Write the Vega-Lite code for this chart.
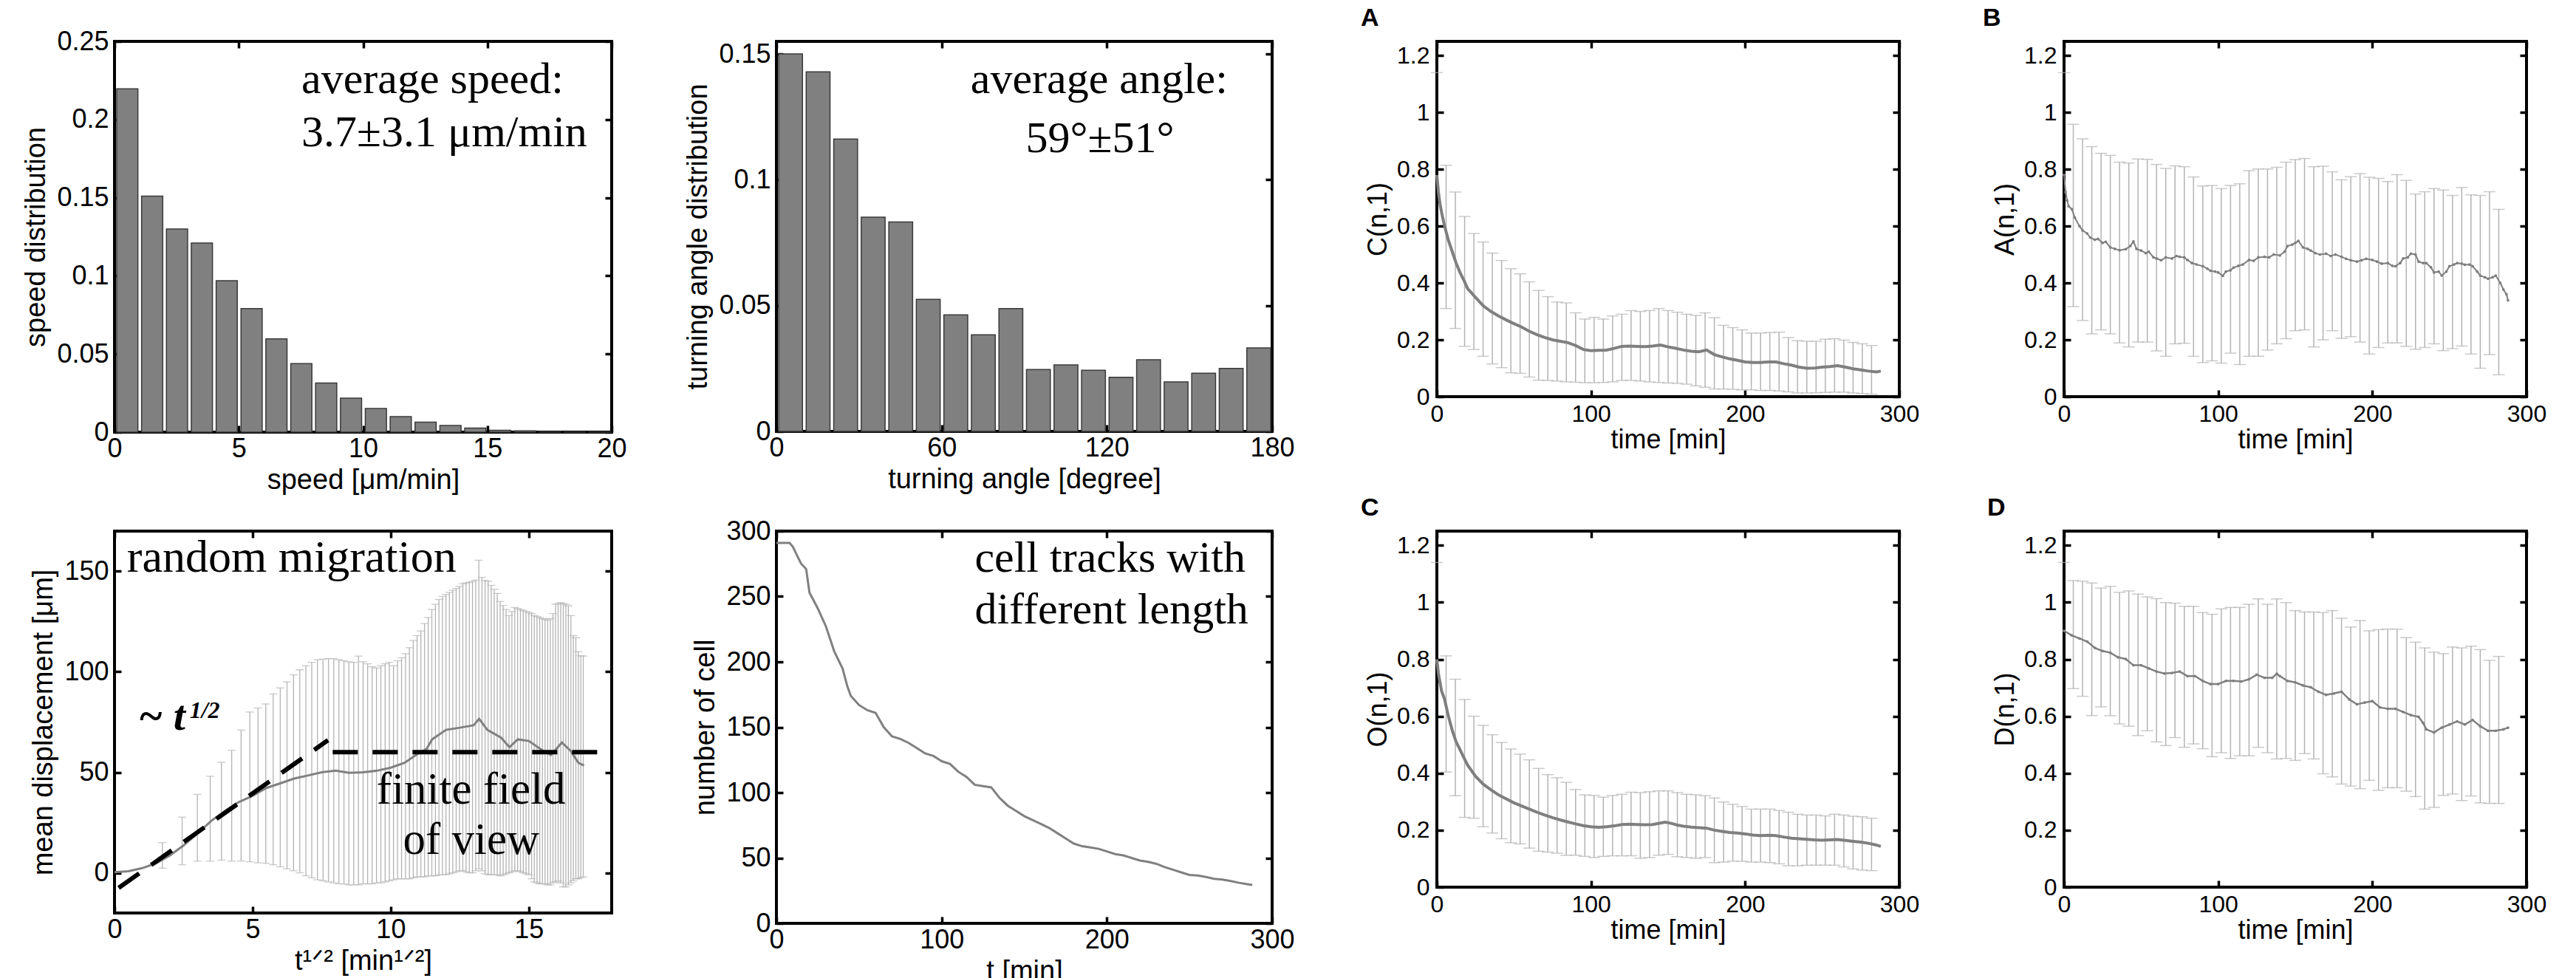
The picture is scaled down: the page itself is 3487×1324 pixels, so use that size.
{
"$schema": "https://vega.github.io/schema/vega-lite/v6.json",
"autosize": {"type": "none"},
"padding": {"left": 155, "top": 56, "right": 3332, "bottom": 1268},
"background": "white",
"config": {
  "view": {"stroke": "black", "strokeWidth": 4},
  "axis": {"domain": false, "grid": false, "ticks": true, "tickColor": "black", "tickWidth": 3.5, "tickSize": -9,
    "labelFont": "Liberation Sans", "titleFont": "Liberation Sans", "labelColor": "black", "titleColor": "black",
    "titleFontWeight": "normal", "labelFontSize": 36, "titleFontSize": 38, "labelFlush": false, "labelOverlap": false}
},
"datasets": {
  "speed": [
    {"b0":0,"b1":1,"p":0.2196},{"b0":1,"b1":2,"p":0.151},{"b0":2,"b1":3,"p":0.130},{"b0":3,"b1":4,"p":0.121},
    {"b0":4,"b1":5,"p":0.0969},{"b0":5,"b1":6,"p":0.079},{"b0":6,"b1":7,"p":0.0597},{"b0":7,"b1":8,"p":0.0438},
    {"b0":8,"b1":9,"p":0.0314},{"b0":9,"b1":10,"p":0.0217},{"b0":10,"b1":11,"p":0.0151},{"b0":11,"b1":12,"p":0.0099},
    {"b0":12,"b1":13,"p":0.0064},{"b0":13,"b1":14,"p":0.0042},{"b0":14,"b1":15,"p":0.0026},{"b0":15,"b1":16,"p":0.0012},
    {"b0":16,"b1":17,"p":0.0008},{"b0":17,"b1":18,"p":0.0002},{"b0":18,"b1":19,"p":0.0001},{"b0":19,"b1":20,"p":0.0001}
  ],
  "angle": [
    {"b0":0,"b1":10,"p":0.150},{"b0":10,"b1":20,"p":0.1429},{"b0":20,"b1":30,"p":0.1162},{"b0":30,"b1":40,"p":0.0851},
    {"b0":40,"b1":50,"p":0.0832},{"b0":50,"b1":60,"p":0.0525},{"b0":60,"b1":70,"p":0.0463},{"b0":70,"b1":80,"p":0.0384},
    {"b0":80,"b1":90,"p":0.0488},{"b0":90,"b1":100,"p":0.0246},{"b0":100,"b1":110,"p":0.0264},{"b0":110,"b1":120,"p":0.0243},
    {"b0":120,"b1":130,"p":0.0215},{"b0":130,"b1":140,"p":0.0285},{"b0":140,"b1":150,"p":0.0197},{"b0":150,"b1":160,"p":0.0231},
    {"b0":160,"b1":170,"p":0.0250},{"b0":170,"b1":180,"p":0.0332}
  ],
  "disp": [
    {"x":0,"y":0.3},{"x":0.5,"y":0.8},{"x":1,"y":2.3},{"x":1.5,"y":4.7},{"x":2,"y":8.6},{"x":2.5,"y":13.6},{"x":3,"y":19.5},
    {"x":3.5,"y":25.8},{"x":4,"y":30.8},{"x":4.5,"y":35.2},{"x":5,"y":38.3},{"x":5.5,"y":42.2},{"x":6,"y":44.5},{"x":6.5,"y":46.9},
    {"x":7,"y":48.4},{"x":7.5,"y":50},{"x":8,"y":50.8},{"x":8.5,"y":49.7},{"x":9,"y":50},{"x":9.5,"y":50.8},{"x":10,"y":52.3},
    {"x":10.5,"y":54.7},{"x":11,"y":59.4},{"x":11.3,"y":61.7},{"x":11.5,"y":66.4},{"x":12,"y":71.1},{"x":12.5,"y":72.2},{"x":13,"y":73.4},
    {"x":13.2,"y":76.6},{"x":13.5,"y":71.1},{"x":14,"y":67.2},{"x":14.3,"y":62.5},{"x":14.6,"y":66.4},{"x":15,"y":65.6},
    {"x":15.5,"y":60.9},{"x":15.8,"y":58.6},{"x":16.2,"y":64.8},{"x":16.5,"y":60.9},{"x":16.8,"y":54.7},{"x":17,"y":53.4}
  ],
  "disp_err": [
    {"x":1.732,"lo":2.3,"hi":15},{"x":2.449,"lo":4,"hi":27.7},{"x":3.0,"lo":5.8,"hi":39},{"x":3.464,"lo":5.8,"hi":48},
    {"x":3.873,"lo":6.3,"hi":55},{"x":4.243,"lo":5.8,"hi":61},{"x":4.583,"lo":5.9,"hi":71},{"x":4.899,"lo":5.5,"hi":80},
    {"x":5.196,"lo":5,"hi":82},{"x":5.477,"lo":4.7,"hi":84},{"x":5.745,"lo":4,"hi":89},{"x":6.0,"lo":3,"hi":92},
    {"x":6.245,"lo":2,"hi":95},{"x":6.481,"lo":1,"hi":98.5},{"x":6.708,"lo":0,"hi":101},{"x":6.928,"lo":-1.5,"hi":103},
    {"x":7.141,"lo":-2.5,"hi":104.7},{"x":7.348,"lo":-3.5,"hi":106},{"x":7.55,"lo":-4,"hi":106.3},{"x":7.746,"lo":-4.5,"hi":106.6},
    {"x":7.937,"lo":-5,"hi":106.5},{"x":8.124,"lo":-5.5,"hi":106},{"x":8.307,"lo":-5.5,"hi":105.5},{"x":8.485,"lo":-6,"hi":105},
    {"x":8.66,"lo":-6,"hi":104.7},{"x":8.832,"lo":-6,"hi":107.8},{"x":9.0,"lo":-5.5,"hi":105},{"x":9.165,"lo":-5.5,"hi":104},
    {"x":9.327,"lo":-5.5,"hi":102.5},{"x":9.487,"lo":-5,"hi":101.9},{"x":9.644,"lo":-5,"hi":103},{"x":9.798,"lo":-4.5,"hi":104},
    {"x":9.95,"lo":-4,"hi":104.7},{"x":10.1,"lo":-3.5,"hi":103},{"x":10.247,"lo":-3,"hi":105.5},{"x":10.392,"lo":-3,"hi":107},
    {"x":10.536,"lo":-3,"hi":109},{"x":10.677,"lo":-3,"hi":112},{"x":10.817,"lo":-2.5,"hi":115.6},{"x":10.954,"lo":-2,"hi":118},
    {"x":11.091,"lo":-2,"hi":120.3},{"x":11.225,"lo":-2,"hi":124},{"x":11.358,"lo":-1.5,"hi":127},{"x":11.489,"lo":-1.5,"hi":131},
    {"x":11.619,"lo":-1.5,"hi":133.6},{"x":11.747,"lo":-1,"hi":136},{"x":11.874,"lo":-1,"hi":137.5},{"x":12.0,"lo":-1,"hi":138.5},
    {"x":12.124,"lo":-0.5,"hi":139.5},{"x":12.247,"lo":0,"hi":140.6},{"x":12.369,"lo":0.5,"hi":141.5},{"x":12.49,"lo":1,"hi":142.5},
    {"x":12.61,"lo":1,"hi":143.8},{"x":12.728,"lo":0.5,"hi":144.2},{"x":12.845,"lo":0,"hi":144.5},{"x":12.961,"lo":0,"hi":145},
    {"x":13.077,"lo":1,"hi":145.6},{"x":13.191,"lo":2,"hi":155.5},{"x":13.304,"lo":1,"hi":147},{"x":13.416,"lo":-0.5,"hi":145.5},
    {"x":13.528,"lo":-1,"hi":145},{"x":13.638,"lo":-1,"hi":143},{"x":13.748,"lo":-1,"hi":141},{"x":13.856,"lo":-1,"hi":139},
    {"x":13.964,"lo":-1.5,"hi":135},{"x":14.071,"lo":-1,"hi":133},{"x":14.177,"lo":-0.5,"hi":131},{"x":14.283,"lo":0,"hi":128},
    {"x":14.387,"lo":0.5,"hi":130},{"x":14.491,"lo":1,"hi":132},{"x":14.595,"lo":1,"hi":131.5},{"x":14.697,"lo":0.5,"hi":131},
    {"x":14.799,"lo":0,"hi":130.5},{"x":14.9,"lo":-0.5,"hi":130},{"x":15.0,"lo":-1,"hi":129.5},{"x":15.1,"lo":-3,"hi":129},
    {"x":15.199,"lo":-4.5,"hi":128},{"x":15.297,"lo":-5,"hi":127.5},{"x":15.395,"lo":-5.5,"hi":127},{"x":15.492,"lo":-5.5,"hi":126.5},
    {"x":15.588,"lo":-5.5,"hi":126},{"x":15.684,"lo":-6,"hi":125.8},{"x":15.78,"lo":-6,"hi":126.5},{"x":15.875,"lo":-5,"hi":129},
    {"x":15.969,"lo":-4.5,"hi":133.6},{"x":16.062,"lo":-4,"hi":134},{"x":16.155,"lo":-5,"hi":134.4},{"x":16.248,"lo":-7,"hi":134},
    {"x":16.34,"lo":-7,"hi":133.5},{"x":16.432,"lo":-6,"hi":132.8},{"x":16.523,"lo":-5,"hi":128},{"x":16.613,"lo":-4,"hi":118},
    {"x":16.703,"lo":-3,"hi":117},{"x":16.793,"lo":-3,"hi":110},{"x":16.882,"lo":-2.5,"hi":108},{"x":16.971,"lo":-2,"hi":107.8}
  ],
  "dash": [
    {"x":0.15,"y":-7.5,"seg":"a"},{"x":7.73,"y":66,"seg":"a"},{"x":7.9,"y":60,"seg":"b"},{"x":18,"y":60,"seg":"b"}
  ],
  "cells": [
    {"t":0,"n":291},{"t":8,"n":291},{"t":10,"n":288},{"t":13,"n":280},{"t":15,"n":275},{"t":18,"n":271},{"t":20,"n":253},
    {"t":25,"n":241},{"t":30,"n":227},{"t":35,"n":208},{"t":40,"n":195},{"t":43,"n":181},{"t":45,"n":174},{"t":50,"n":167},
    {"t":55,"n":163},{"t":60,"n":161},{"t":65,"n":150},{"t":70,"n":143},{"t":75,"n":141},{"t":80,"n":138},{"t":85,"n":134},
    {"t":90,"n":130},{"t":95,"n":128},{"t":100,"n":124},{"t":105,"n":122},{"t":110,"n":116},{"t":115,"n":112},{"t":120,"n":106},
    {"t":125,"n":105},{"t":130,"n":104},{"t":135,"n":96},{"t":140,"n":90},{"t":145,"n":86},{"t":150,"n":82},{"t":155,"n":79},
    {"t":160,"n":76},{"t":165,"n":73},{"t":170,"n":69},{"t":175,"n":65},{"t":180,"n":61},{"t":185,"n":59},{"t":190,"n":58},
    {"t":195,"n":57},{"t":200,"n":55},{"t":205,"n":53},{"t":210,"n":52},{"t":215,"n":50},{"t":220,"n":48},{"t":225,"n":47},
    {"t":230,"n":45.5},{"t":235,"n":43},{"t":240,"n":41},{"t":245,"n":39},{"t":250,"n":37},{"t":255,"n":36.6},{"t":260,"n":35.4},
    {"t":265,"n":34},{"t":270,"n":33.5},{"t":275,"n":32.3},{"t":280,"n":31},{"t":285,"n":30},{"t":288,"n":29.4}
  ],
  "A_mean": [
    {"t":0,"v":0.78},{"t":1,"v":0.72},{"t":2,"v":0.68},{"t":3,"v":0.65},{"t":5,"v":0.6},{"t":7.5,"v":0.55},{"t":10,"v":0.51},
    {"t":12.5,"v":0.47},{"t":15,"v":0.437},{"t":17.5,"v":0.41},{"t":20,"v":0.38},{"t":25,"v":0.35},{"t":30,"v":0.32},{"t":35,"v":0.3},
    {"t":40,"v":0.284},{"t":45,"v":0.27},{"t":50,"v":0.257},{"t":55,"v":0.245},{"t":60,"v":0.23},{"t":65,"v":0.218},{"t":70,"v":0.208},
    {"t":75,"v":0.2},{"t":80,"v":0.195},{"t":85,"v":0.19},{"t":90,"v":0.18},{"t":95,"v":0.166},{"t":100,"v":0.162},{"t":105,"v":0.163},
    {"t":110,"v":0.164},{"t":115,"v":0.17},{"t":120,"v":0.177},{"t":125,"v":0.178},{"t":130,"v":0.177},{"t":135,"v":0.176},
    {"t":140,"v":0.178},{"t":145,"v":0.182},{"t":150,"v":0.175},{"t":155,"v":0.17},{"t":160,"v":0.164},{"t":165,"v":0.16},
    {"t":170,"v":0.158},{"t":175,"v":0.164},{"t":180,"v":0.148},{"t":185,"v":0.14},{"t":190,"v":0.133},{"t":195,"v":0.128},
    {"t":200,"v":0.122},{"t":205,"v":0.12},{"t":210,"v":0.12},{"t":215,"v":0.122},{"t":220,"v":0.122},{"t":225,"v":0.116},
    {"t":230,"v":0.111},{"t":235,"v":0.104},{"t":240,"v":0.1},{"t":245,"v":0.101},{"t":250,"v":0.104},{"t":255,"v":0.106},
    {"t":260,"v":0.109},{"t":265,"v":0.104},{"t":270,"v":0.098},{"t":275,"v":0.094},{"t":280,"v":0.09},{"t":285,"v":0.087},{"t":288,"v":0.09}
  ],
  "A_err": [
    {"t":0,"lo":null,"hi":1.14},
    {"t":6,"lo":0.31,"hi":0.814},{"t":12,"lo":0.24,"hi":0.72},{"t":18,"lo":0.177,"hi":0.634},{"t":24,"lo":0.166,"hi":0.574},
    {"t":30,"lo":0.142,"hi":0.544},{"t":36,"lo":0.115,"hi":0.505},{"t":42,"lo":0.102,"hi":0.479},{"t":48,"lo":0.084,"hi":0.45},
    {"t":54,"lo":0.082,"hi":0.432},{"t":60,"lo":0.069,"hi":0.404},{"t":66,"lo":0.058,"hi":0.374},{"t":72,"lo":0.057,"hi":0.352},
    {"t":78,"lo":0.055,"hi":0.333},{"t":84,"lo":0.052,"hi":0.33},{"t":90,"lo":0.051,"hi":0.295},{"t":96,"lo":0.049,"hi":0.273},
    {"t":102,"lo":0.049,"hi":0.279},{"t":108,"lo":0.05,"hi":0.273},{"t":114,"lo":0.052,"hi":0.284},{"t":120,"lo":0.057,"hi":0.29},
    {"t":126,"lo":0.057,"hi":0.303},{"t":132,"lo":0.055,"hi":0.30},{"t":138,"lo":0.052,"hi":0.303},{"t":144,"lo":0.05,"hi":0.31},
    {"t":150,"lo":0.048,"hi":0.303},{"t":156,"lo":0.047,"hi":0.297},{"t":162,"lo":0.044,"hi":0.29},{"t":168,"lo":0.038,"hi":0.286},
    {"t":174,"lo":0.033,"hi":0.295},{"t":180,"lo":0.027,"hi":0.278},{"t":186,"lo":0.027,"hi":0.251},{"t":192,"lo":0.026,"hi":0.243},
    {"t":198,"lo":0.024,"hi":0.235},{"t":204,"lo":0.024,"hi":0.224},{"t":210,"lo":0.022,"hi":0.224},{"t":216,"lo":0.022,"hi":0.226},
    {"t":222,"lo":0.02,"hi":0.227},{"t":228,"lo":0.017,"hi":0.208},{"t":234,"lo":0.013,"hi":0.197},{"t":240,"lo":0.013,"hi":0.195},
    {"t":246,"lo":0.014,"hi":0.195},{"t":252,"lo":0.015,"hi":0.202},{"t":258,"lo":0.016,"hi":0.204},{"t":264,"lo":0.016,"hi":0.199},
    {"t":270,"lo":0.013,"hi":0.191},{"t":276,"lo":0.011,"hi":0.186},{"t":282,"lo":0.009,"hi":0.18}
  ],
  "B_mean": [
    {"t":0,"v":0.78},{"t":1,"v":0.72},{"t":2,"v":0.69},{"t":3,"v":0.67},{"t":5,"v":0.66},{"t":7,"v":0.63},{"t":10,"v":0.6},{"t":12,"v":0.585},
    {"t":15,"v":0.574},{"t":17,"v":0.56},{"t":20,"v":0.552},{"t":22,"v":0.555},{"t":25,"v":0.541},{"t":27,"v":0.545},{"t":30,"v":0.525},
    {"t":33,"v":0.52},{"t":36,"v":0.515},{"t":40,"v":0.519},{"t":43,"v":0.53},{"t":45,"v":0.546},{"t":47,"v":0.52},{"t":50,"v":0.514},
    {"t":53,"v":0.505},{"t":55,"v":0.51},{"t":58,"v":0.49},{"t":60,"v":0.486},{"t":63,"v":0.48},{"t":66,"v":0.49},{"t":70,"v":0.486},
    {"t":73,"v":0.495},{"t":75,"v":0.492},{"t":78,"v":0.49},{"t":80,"v":0.481},{"t":83,"v":0.47},{"t":86,"v":0.465},{"t":90,"v":0.459},
    {"t":93,"v":0.45},{"t":95,"v":0.443},{"t":98,"v":0.44},{"t":100,"v":0.437},{"t":103,"v":0.425},{"t":105,"v":0.44},{"t":108,"v":0.445},
    {"t":110,"v":0.454},{"t":113,"v":0.46},{"t":116,"v":0.465},{"t":120,"v":0.481},{"t":123,"v":0.478},{"t":126,"v":0.49},{"t":130,"v":0.492},
    {"t":133,"v":0.49},{"t":136,"v":0.5},{"t":140,"v":0.497},{"t":143,"v":0.51},{"t":145,"v":0.53},{"t":148,"v":0.535},{"t":150,"v":0.541},
    {"t":152,"v":0.548},{"t":155,"v":0.525},{"t":158,"v":0.52},{"t":160,"v":0.514},{"t":163,"v":0.505},{"t":166,"v":0.5},{"t":170,"v":0.503},
    {"t":173,"v":0.495},{"t":176,"v":0.5},{"t":180,"v":0.492},{"t":183,"v":0.485},{"t":186,"v":0.48},{"t":190,"v":0.475},{"t":193,"v":0.48},
    {"t":196,"v":0.485},{"t":200,"v":0.481},{"t":203,"v":0.475},{"t":206,"v":0.468},{"t":210,"v":0.47},{"t":213,"v":0.46},{"t":215,"v":0.459},
    {"t":218,"v":0.47},{"t":220,"v":0.486},{"t":223,"v":0.49},{"t":225,"v":0.503},{"t":228,"v":0.5},{"t":230,"v":0.475},{"t":233,"v":0.47},
    {"t":235,"v":0.47},{"t":238,"v":0.455},{"t":240,"v":0.437},{"t":243,"v":0.44},{"t":245,"v":0.426},{"t":248,"v":0.44},{"t":250,"v":0.459},
    {"t":253,"v":0.465},{"t":255,"v":0.47},{"t":258,"v":0.468},{"t":260,"v":0.464},{"t":263,"v":0.465},{"t":265,"v":0.459},{"t":268,"v":0.44},
    {"t":270,"v":0.426},{"t":273,"v":0.42},{"t":275,"v":0.415},{"t":278,"v":0.42},{"t":280,"v":0.426},{"t":283,"v":0.4},{"t":285,"v":0.377},
    {"t":287,"v":0.36},{"t":288,"v":0.339}
  ],
  "B_err": [
    {"t":0,"lo":null,"hi":1.14},
    {"t":6,"lo":0.317,"hi":0.958},{"t":12,"lo":0.268,"hi":0.907},{"t":18,"lo":0.221,"hi":0.88},{"t":24,"lo":0.235,"hi":0.856},
    {"t":30,"lo":0.221,"hi":0.849},{"t":36,"lo":0.189,"hi":0.825},{"t":42,"lo":0.175,"hi":0.822},{"t":48,"lo":0.192,"hi":0.836},
    {"t":54,"lo":0.192,"hi":0.835},{"t":60,"lo":0.161,"hi":0.817},{"t":66,"lo":0.142,"hi":0.803},{"t":72,"lo":0.186,"hi":0.812},
    {"t":78,"lo":0.188,"hi":0.809},{"t":84,"lo":0.142,"hi":0.773},{"t":90,"lo":0.12,"hi":0.741},{"t":96,"lo":0.126,"hi":0.743},
    {"t":102,"lo":0.118,"hi":0.732},{"t":108,"lo":0.153,"hi":0.743},{"t":114,"lo":0.113,"hi":0.749},{"t":120,"lo":0.142,"hi":0.795},
    {"t":126,"lo":0.142,"hi":0.801},{"t":132,"lo":0.164,"hi":0.801},{"t":138,"lo":0.186,"hi":0.807},{"t":144,"lo":0.204,"hi":0.825},
    {"t":150,"lo":0.232,"hi":0.834},{"t":156,"lo":0.235,"hi":0.838},{"t":162,"lo":0.175,"hi":0.809},{"t":168,"lo":0.2,"hi":0.811},
    {"t":174,"lo":0.232,"hi":0.791},{"t":180,"lo":0.205,"hi":0.763},{"t":186,"lo":0.211,"hi":0.774},{"t":192,"lo":0.192,"hi":0.785},
    {"t":198,"lo":0.15,"hi":0.772},{"t":204,"lo":0.173,"hi":0.768},{"t":210,"lo":0.189,"hi":0.757},{"t":216,"lo":0.189,"hi":0.781},
    {"t":222,"lo":0.177,"hi":0.761},{"t":228,"lo":0.167,"hi":0.713},{"t":234,"lo":0.173,"hi":0.721},{"t":240,"lo":0.186,"hi":0.732},
    {"t":246,"lo":0.162,"hi":0.727},{"t":252,"lo":0.169,"hi":0.708},{"t":258,"lo":0.178,"hi":0.736},{"t":264,"lo":0.15,"hi":0.71},
    {"t":270,"lo":0.1,"hi":0.708},{"t":276,"lo":0.148,"hi":0.721},{"t":282,"lo":0.077,"hi":0.659}
  ],
  "C_mean": [
    {"t":0,"v":0.8},{"t":1,"v":0.75},{"t":2,"v":0.72},{"t":3,"v":0.69},{"t":5,"v":0.66},{"t":7.5,"v":0.6},{"t":10,"v":0.55},
    {"t":12.5,"v":0.51},{"t":15,"v":0.483},{"t":17.5,"v":0.455},{"t":20,"v":0.428},{"t":25,"v":0.39},{"t":30,"v":0.362},{"t":35,"v":0.342},
    {"t":40,"v":0.324},{"t":45,"v":0.31},{"t":50,"v":0.296},{"t":55,"v":0.285},{"t":60,"v":0.274},{"t":65,"v":0.263},{"t":70,"v":0.253},
    {"t":75,"v":0.244},{"t":80,"v":0.236},{"t":85,"v":0.229},{"t":90,"v":0.222},{"t":95,"v":0.216},{"t":100,"v":0.212},{"t":105,"v":0.21},
    {"t":110,"v":0.212},{"t":115,"v":0.215},{"t":120,"v":0.22},{"t":125,"v":0.221},{"t":130,"v":0.22},{"t":135,"v":0.219},{"t":140,"v":0.22},
    {"t":145,"v":0.225},{"t":148,"v":0.228},{"t":152,"v":0.224},{"t":156,"v":0.218},{"t":160,"v":0.214},{"t":165,"v":0.211},{"t":170,"v":0.209},
    {"t":175,"v":0.207},{"t":180,"v":0.2},{"t":185,"v":0.196},{"t":190,"v":0.192},{"t":195,"v":0.19},{"t":200,"v":0.187},{"t":205,"v":0.183},
    {"t":210,"v":0.181},{"t":215,"v":0.182},{"t":220,"v":0.181},{"t":225,"v":0.176},{"t":230,"v":0.172},{"t":235,"v":0.17},{"t":240,"v":0.168},
    {"t":245,"v":0.166},{"t":250,"v":0.165},{"t":255,"v":0.166},{"t":260,"v":0.167},{"t":265,"v":0.164},{"t":270,"v":0.161},{"t":275,"v":0.158},
    {"t":280,"v":0.154},{"t":285,"v":0.148},{"t":288,"v":0.143}
  ],
  "C_err": [
    {"t":0,"lo":null,"hi":1.14},
    {"t":6,"lo":0.404,"hi":0.812},{"t":12,"lo":0.321,"hi":0.73},{"t":18,"lo":0.245,"hi":0.659},{"t":24,"lo":0.242,"hi":0.6},
    {"t":30,"lo":0.212,"hi":0.568},{"t":36,"lo":0.19,"hi":0.535},{"t":42,"lo":0.17,"hi":0.508},{"t":48,"lo":0.156,"hi":0.485},
    {"t":54,"lo":0.152,"hi":0.467},{"t":60,"lo":0.137,"hi":0.447},{"t":66,"lo":0.126,"hi":0.417},{"t":72,"lo":0.123,"hi":0.395},
    {"t":78,"lo":0.119,"hi":0.384},{"t":84,"lo":0.112,"hi":0.368},{"t":90,"lo":0.112,"hi":0.343},{"t":96,"lo":0.108,"hi":0.324},
    {"t":102,"lo":0.104,"hi":0.322},{"t":108,"lo":0.108,"hi":0.316},{"t":114,"lo":0.11,"hi":0.322},{"t":120,"lo":0.11,"hi":0.326},
    {"t":126,"lo":0.11,"hi":0.333},{"t":132,"lo":0.101,"hi":0.332},{"t":138,"lo":0.104,"hi":0.335},{"t":144,"lo":0.112,"hi":0.338},
    {"t":150,"lo":0.115,"hi":0.338},{"t":156,"lo":0.107,"hi":0.332},{"t":162,"lo":0.104,"hi":0.326},{"t":168,"lo":0.101,"hi":0.324},
    {"t":174,"lo":0.104,"hi":0.321},{"t":180,"lo":0.086,"hi":0.313},{"t":186,"lo":0.088,"hi":0.299},{"t":192,"lo":0.091,"hi":0.291},
    {"t":198,"lo":0.091,"hi":0.283},{"t":204,"lo":0.088,"hi":0.274},{"t":210,"lo":0.088,"hi":0.274},{"t":216,"lo":0.086,"hi":0.274},
    {"t":222,"lo":0.082,"hi":0.269},{"t":228,"lo":0.075,"hi":0.263},{"t":234,"lo":0.075,"hi":0.256},{"t":240,"lo":0.077,"hi":0.253},
    {"t":246,"lo":0.077,"hi":0.253},{"t":252,"lo":0.077,"hi":0.25},{"t":258,"lo":0.077,"hi":0.256},{"t":264,"lo":0.071,"hi":0.253},
    {"t":270,"lo":0.064,"hi":0.249},{"t":276,"lo":0.06,"hi":0.247},{"t":282,"lo":0.058,"hi":0.242}
  ],
  "D_mean": [
    {"t":0,"v":0.9},{"t":5,"v":0.884},{"t":10,"v":0.873},{"t":15,"v":0.862},{"t":20,"v":0.84},{"t":25,"v":0.829},{"t":30,"v":0.823},
    {"t":35,"v":0.807},{"t":40,"v":0.801},{"t":45,"v":0.779},{"t":50,"v":0.779},{"t":55,"v":0.768},{"t":60,"v":0.757},{"t":65,"v":0.75},
    {"t":70,"v":0.752},{"t":75,"v":0.757},{"t":80,"v":0.741},{"t":85,"v":0.741},{"t":90,"v":0.724},{"t":95,"v":0.713},{"t":100,"v":0.713},
    {"t":105,"v":0.724},{"t":110,"v":0.724},{"t":115,"v":0.722},{"t":120,"v":0.73},{"t":125,"v":0.746},{"t":130,"v":0.735},{"t":135,"v":0.735},
    {"t":138,"v":0.749},{"t":140,"v":0.741},{"t":145,"v":0.724},{"t":150,"v":0.719},{"t":155,"v":0.708},{"t":160,"v":0.702},{"t":165,"v":0.686},
    {"t":170,"v":0.675},{"t":175,"v":0.68},{"t":180,"v":0.686},{"t":185,"v":0.659},{"t":190,"v":0.642},{"t":195,"v":0.648},{"t":200,"v":0.653},
    {"t":205,"v":0.631},{"t":210,"v":0.626},{"t":215,"v":0.626},{"t":220,"v":0.615},{"t":225,"v":0.604},{"t":230,"v":0.598},{"t":233,"v":0.576},
    {"t":235,"v":0.554},{"t":240,"v":0.543},{"t":245,"v":0.56},{"t":250,"v":0.571},{"t":255,"v":0.582},{"t":260,"v":0.571},{"t":265,"v":0.587},
    {"t":270,"v":0.565},{"t":275,"v":0.549},{"t":280,"v":0.549},{"t":285,"v":0.554},{"t":288,"v":0.56}
  ],
  "D_err": [
    {"t":0,"lo":null,"hi":1.14},
    {"t":6,"lo":0.697,"hi":1.076},{"t":12,"lo":0.67,"hi":1.074},{"t":18,"lo":0.602,"hi":1.068},{"t":24,"lo":0.633,"hi":1.05},
    {"t":30,"lo":0.602,"hi":1.056},{"t":36,"lo":0.573,"hi":1.035},{"t":42,"lo":0.565,"hi":1.04},{"t":48,"lo":0.532,"hi":1.029},
    {"t":54,"lo":0.549,"hi":1.019},{"t":60,"lo":0.51,"hi":1.013},{"t":66,"lo":0.497,"hi":0.999},{"t":72,"lo":0.525,"hi":0.997},
    {"t":78,"lo":0.491,"hi":0.986},{"t":84,"lo":0.503,"hi":0.986},{"t":90,"lo":0.486,"hi":0.964},{"t":96,"lo":0.458,"hi":0.958},
    {"t":102,"lo":0.472,"hi":0.977},{"t":108,"lo":0.452,"hi":0.982},{"t":114,"lo":0.461,"hi":0.982},{"t":120,"lo":0.461,"hi":0.993},
    {"t":126,"lo":0.491,"hi":1.012},{"t":132,"lo":0.472,"hi":0.993},{"t":138,"lo":0.45,"hi":1.012},{"t":144,"lo":0.452,"hi":0.999},
    {"t":150,"lo":0.445,"hi":0.971},{"t":156,"lo":0.469,"hi":0.966},{"t":162,"lo":0.45,"hi":0.966},{"t":168,"lo":0.398,"hi":0.964},
    {"t":174,"lo":0.387,"hi":0.971},{"t":180,"lo":0.362,"hi":0.944},{"t":186,"lo":0.355,"hi":0.913},{"t":192,"lo":0.346,"hi":0.936},
    {"t":198,"lo":0.375,"hi":0.9},{"t":204,"lo":0.34,"hi":0.904},{"t":210,"lo":0.349,"hi":0.906},{"t":216,"lo":0.349,"hi":0.906},
    {"t":222,"lo":0.337,"hi":0.876},{"t":228,"lo":0.318,"hi":0.86},{"t":234,"lo":0.274,"hi":0.84},{"t":240,"lo":0.28,"hi":0.825},
    {"t":246,"lo":0.322,"hi":0.82},{"t":252,"lo":0.327,"hi":0.843},{"t":258,"lo":0.304,"hi":0.84},{"t":264,"lo":0.32,"hi":0.846},
    {"t":270,"lo":0.296,"hi":0.834},{"t":276,"lo":0.294,"hi":0.796},{"t":282,"lo":0.294,"hi":0.81}
  ]
},
"columns": 4,
"spacing": {"row": 134, "column": 223},
"bounds": "flush",
"concat": [
   {"width": 673, "height": 529,
    "resolve": {"axis": {"x": "independent", "y": "independent"}},
    "layer": [
     {"data": {"name": "speed"}, "mark": {"type": "bar", "color": "#808080", "stroke": "#3a3a3a", "strokeWidth": 1.5, "binSpacing": 5},
      "encoding": {
       "x": {"field": "b0", "type": "quantitative", "bin": {"binned": true, "step": 1}, "scale": {"domain": [0, 20], "nice": false, "zero": false},
             "axis": {"orient": "bottom", "values": [0, 5, 10, 15, 20], "title": "speed [μm/min]", "labelPadding": 14, "titlePadding": 6}},
       "x2": {"field": "b1"},
       "y": {"field": "p", "type": "quantitative", "scale": {"domain": [0, 0.25], "nice": false},
             "axis": {"orient": "left", "values": [0, 0.05, 0.1, 0.15, 0.2, 0.25], "format": "~g", "title": "speed distribution", "labelPadding": 17, "titlePadding": 8}}
      }},
     {"data": {"values": [{}]}, "mark": {"type": "text", "text": "average speed:", "font": "Liberation Serif", "fontSize": 60, "align": "left", "baseline": "alphabetic", "color": "black"},
      "encoding": {
       "x": {"datum": 7.52, "type": "quantitative", "scale": {"domain": [0, 20], "nice": false, "zero": false},
             "axis": {"orient": "top", "values": [0, 5, 10, 15, 20], "labels": false, "title": null}},
       "y": {"datum": 0.2169, "type": "quantitative", "scale": {"domain": [0, 0.25], "nice": false},
             "axis": {"orient": "right", "values": [0, 0.05, 0.1, 0.15, 0.2, 0.25], "labels": false, "title": null}}
      }},
     {"data": {"values": [{}]}, "mark": {"type": "text", "text": "3.7±3.1 μm/min", "font": "Liberation Serif", "fontSize": 60, "align": "left", "baseline": "alphabetic", "color": "black"},
      "encoding": {
       "x": {"datum": 7.52, "type": "quantitative", "scale": {"domain": [0, 20], "nice": false, "zero": false}, "axis": null},
       "y": {"datum": 0.1829, "type": "quantitative", "scale": {"domain": [0, 0.25], "nice": false}, "axis": null}
      }}
    ]},
   {"width": 671, "height": 528,
    "resolve": {"axis": {"x": "independent", "y": "independent"}},
    "layer": [
     {"data": {"name": "angle"}, "mark": {"type": "bar", "color": "#808080", "stroke": "#3a3a3a", "strokeWidth": 1.5, "binSpacing": 5},
      "encoding": {
       "x": {"field": "b0", "type": "quantitative", "bin": {"binned": true, "step": 10}, "scale": {"domain": [0, 180], "nice": false, "zero": false},
             "axis": {"orient": "bottom", "values": [0, 60, 120, 180], "title": "turning angle [degree]", "labelPadding": 14, "titlePadding": 6}},
       "x2": {"field": "b1"},
       "y": {"field": "p", "type": "quantitative", "scale": {"domain": [0, 0.155], "nice": false},
             "axis": {"orient": "left", "values": [0, 0.05, 0.1, 0.15], "format": "~g", "title": "turning angle distribution", "labelPadding": 17, "titlePadding": 8}}
      }},
     {"data": {"values": [{}]}, "mark": {"type": "text", "text": "average angle:", "font": "Liberation Serif", "fontSize": 60, "align": "left", "baseline": "alphabetic", "color": "black"},
      "encoding": {
       "x": {"datum": 70.5, "type": "quantitative", "scale": {"domain": [0, 180], "nice": false, "zero": false},
             "axis": {"orient": "top", "values": [0, 60, 120, 180], "labels": false, "title": null}},
       "y": {"datum": 0.1345, "type": "quantitative", "scale": {"domain": [0, 0.155], "nice": false},
             "axis": {"orient": "right", "values": [0, 0.05, 0.1, 0.15], "labels": false, "title": null}}
      }},
     {"data": {"values": [{}]}, "mark": {"type": "text", "text": "59°±51°", "font": "Liberation Serif", "fontSize": 60, "align": "center", "baseline": "alphabetic", "color": "black"},
      "encoding": {
       "x": {"datum": 117.5, "type": "quantitative", "scale": {"domain": [0, 180], "nice": false, "zero": false}, "axis": null},
       "y": {"datum": 0.111, "type": "quantitative", "scale": {"domain": [0, 0.155], "nice": false}, "axis": null}
      }}
    ]},
   {"width": 626, "height": 481,
    "title": {"text": "A", "anchor": "start", "frame": "group", "dx": -103, "offset": -15, "fontSize": 34, "fontWeight": "bold", "font": "Liberation Sans", "color": "black", "baseline": "alphabetic"},
    "resolve": {"axis": {"x": "independent", "y": "independent"}},
    "layer": [
     {"data": {"name": "A_err"}, "mark": {"type": "rule", "color": "#b3b3b3", "strokeWidth": 1.5},
      "encoding": {
       "x": {"field": "t", "type": "quantitative", "scale": {"domain": [0, 300], "nice": false, "zero": false},
             "axis": {"orient": "bottom", "values": [0, 100, 200, 300], "title": "time [min]", "labelFontSize": 32, "titleFontSize": 36, "labelPadding": 17, "titlePadding": 2}},
       "y": {"field": "lo", "type": "quantitative", "scale": {"domain": [0, 1.25], "nice": false},
             "axis": {"orient": "left", "values": [0, 0.2, 0.4, 0.6, 0.8, 1, 1.2], "format": "~g", "title": "C(n,1)", "labelFontSize": 32, "titleFontSize": 36, "labelPadding": 19, "titlePadding": 6}},
       "y2": {"field": "hi"}
      }},
     {"data": {"name": "A_err"}, "mark": {"type": "tick", "orient": "horizontal", "size": 16, "thickness": 1.5, "color": "#b3b3b3"},
      "encoding": {
       "x": {"field": "t", "type": "quantitative", "scale": {"domain": [0, 300], "nice": false, "zero": false}, "axis": null},
       "y": {"field": "lo", "type": "quantitative", "scale": {"domain": [0, 1.25], "nice": false}, "axis": null}
      }},
     {"data": {"name": "A_err"}, "mark": {"type": "tick", "orient": "horizontal", "size": 16, "thickness": 1.5, "color": "#b3b3b3"},
      "encoding": {
       "x": {"field": "t", "type": "quantitative", "scale": {"domain": [0, 300], "nice": false, "zero": false}, "axis": null},
       "y": {"field": "hi", "type": "quantitative", "scale": {"domain": [0, 1.25], "nice": false}, "axis": null}
      }},
     {"data": {"name": "A_mean"}, "mark": {"type": "line", "color": "#7f7f7f", "strokeWidth": 4},
      "encoding": {
       "x": {"field": "t", "type": "quantitative", "scale": {"domain": [0, 300], "nice": false, "zero": false},
             "axis": {"orient": "top", "values": [0, 100, 200, 300], "labels": false, "title": null}},
       "y": {"field": "v", "type": "quantitative", "scale": {"domain": [0, 1.25], "nice": false},
             "axis": {"orient": "right", "values": [0, 0.2, 0.4, 0.6, 0.8, 1, 1.2], "labels": false, "title": null}}
      }}
    ]},
   {"width": 626, "height": 481,
    "title": {"text": "B", "anchor": "start", "frame": "group", "dx": -110, "offset": -15, "fontSize": 34, "fontWeight": "bold", "font": "Liberation Sans", "color": "black", "baseline": "alphabetic"},
    "resolve": {"axis": {"x": "independent", "y": "independent"}},
    "layer": [
     {"data": {"name": "B_err"}, "mark": {"type": "rule", "color": "#b3b3b3", "strokeWidth": 1.5},
      "encoding": {
       "x": {"field": "t", "type": "quantitative", "scale": {"domain": [0, 300], "nice": false, "zero": false},
             "axis": {"orient": "bottom", "values": [0, 100, 200, 300], "title": "time [min]", "labelFontSize": 32, "titleFontSize": 36, "labelPadding": 17, "titlePadding": 2}},
       "y": {"field": "lo", "type": "quantitative", "scale": {"domain": [0, 1.25], "nice": false},
             "axis": {"orient": "left", "values": [0, 0.2, 0.4, 0.6, 0.8, 1, 1.2], "format": "~g", "title": "A(n,1)", "labelFontSize": 32, "titleFontSize": 36, "labelPadding": 19, "titlePadding": 6}},
       "y2": {"field": "hi"}
      }},
     {"data": {"name": "B_err"}, "mark": {"type": "tick", "orient": "horizontal", "size": 16, "thickness": 1.5, "color": "#b3b3b3"},
      "encoding": {
       "x": {"field": "t", "type": "quantitative", "scale": {"domain": [0, 300], "nice": false, "zero": false}, "axis": null},
       "y": {"field": "lo", "type": "quantitative", "scale": {"domain": [0, 1.25], "nice": false}, "axis": null}
      }},
     {"data": {"name": "B_err"}, "mark": {"type": "tick", "orient": "horizontal", "size": 16, "thickness": 1.5, "color": "#b3b3b3"},
      "encoding": {
       "x": {"field": "t", "type": "quantitative", "scale": {"domain": [0, 300], "nice": false, "zero": false}, "axis": null},
       "y": {"field": "hi", "type": "quantitative", "scale": {"domain": [0, 1.25], "nice": false}, "axis": null}
      }},
     {"data": {"name": "B_mean"}, "mark": {"type": "line", "color": "#7f7f7f", "strokeWidth": 2, "point": {"filled": true, "size": 14, "color": "#7f7f7f"}},
      "encoding": {
       "x": {"field": "t", "type": "quantitative", "scale": {"domain": [0, 300], "nice": false, "zero": false},
             "axis": {"orient": "top", "values": [0, 100, 200, 300], "labels": false, "title": null}},
       "y": {"field": "v", "type": "quantitative", "scale": {"domain": [0, 1.25], "nice": false},
             "axis": {"orient": "right", "values": [0, 0.2, 0.4, 0.6, 0.8, 1, 1.2], "labels": false, "title": null}}
      }}
    ]},
   {"width": 673, "height": 517,
    "resolve": {"axis": {"x": "independent", "y": "independent"}},
    "layer": [
     {"data": {"name": "disp_err"}, "mark": {"type": "rule", "color": "#b3b3b3", "strokeWidth": 1.3},
      "encoding": {
       "x": {"field": "x", "type": "quantitative", "scale": {"domain": [0, 18], "nice": false, "zero": false},
             "axis": {"orient": "bottom", "values": [0, 5, 10, 15], "title": "t¹ᐟ² [min¹ᐟ²]", "labelPadding": 14, "titlePadding": 6}},
       "y": {"field": "lo", "type": "quantitative", "scale": {"domain": [-20, 170], "nice": false, "zero": false},
             "axis": {"orient": "left", "values": [0, 50, 100, 150], "title": "mean displacement [μm]", "labelPadding": 17, "titlePadding": 8}},
       "y2": {"field": "hi"}
      }},
     {"data": {"name": "disp_err"}, "mark": {"type": "tick", "orient": "horizontal", "size": 11, "thickness": 1.3, "color": "#b3b3b3"},
      "encoding": {
       "x": {"field": "x", "type": "quantitative", "scale": {"domain": [0, 18], "nice": false, "zero": false}, "axis": null},
       "y": {"field": "lo", "type": "quantitative", "scale": {"domain": [-20, 170], "nice": false, "zero": false}, "axis": null}
      }},
     {"data": {"name": "disp_err"}, "mark": {"type": "tick", "orient": "horizontal", "size": 11, "thickness": 1.3, "color": "#b3b3b3"},
      "encoding": {
       "x": {"field": "x", "type": "quantitative", "scale": {"domain": [0, 18], "nice": false, "zero": false}, "axis": null},
       "y": {"field": "hi", "type": "quantitative", "scale": {"domain": [-20, 170], "nice": false, "zero": false}, "axis": null}
      }},
     {"data": {"name": "disp"}, "mark": {"type": "line", "color": "#808080", "strokeWidth": 3},
      "encoding": {
       "x": {"field": "x", "type": "quantitative", "scale": {"domain": [0, 18], "nice": false, "zero": false}, "axis": null},
       "y": {"field": "y", "type": "quantitative", "scale": {"domain": [-20, 170], "nice": false, "zero": false}, "axis": null}
      }},
     {"data": {"name": "dash"}, "mark": {"type": "line", "color": "black", "strokeWidth": 6, "strokeDash": [34, 20]},
      "encoding": {
       "x": {"field": "x", "type": "quantitative", "scale": {"domain": [0, 18], "nice": false, "zero": false},
             "axis": {"orient": "top", "values": [0, 5, 10, 15], "labels": false, "title": null}},
       "y": {"field": "y", "type": "quantitative", "scale": {"domain": [-20, 170], "nice": false, "zero": false},
             "axis": {"orient": "right", "values": [0, 50, 100, 150], "labels": false, "title": null}},
       "detail": {"field": "seg"}
      }},
     {"data": {"values": [{}]}, "mark": {"type": "text", "text": "random migration", "font": "Liberation Serif", "fontSize": 62, "align": "left", "baseline": "alphabetic", "color": "black"},
      "encoding": {
       "x": {"datum": 0.45, "type": "quantitative", "scale": {"domain": [0, 18], "nice": false, "zero": false}, "axis": null},
       "y": {"datum": 149.8, "type": "quantitative", "scale": {"domain": [-20, 170], "nice": false, "zero": false}, "axis": null}
      }},
     {"data": {"values": [{}]}, "mark": {"type": "text", "text": "~ t", "font": "Liberation Serif", "fontSize": 58, "fontStyle": "italic", "fontWeight": "bold", "align": "left", "baseline": "alphabetic", "color": "black"},
      "encoding": {
       "x": {"datum": 0.86, "type": "quantitative", "scale": {"domain": [0, 18], "nice": false, "zero": false}, "axis": null},
       "y": {"datum": 71.1, "type": "quantitative", "scale": {"domain": [-20, 170], "nice": false, "zero": false}, "axis": null}
      }},
     {"data": {"values": [{}]}, "mark": {"type": "text", "text": "1/2", "font": "Liberation Serif", "fontSize": 32, "fontStyle": "italic", "fontWeight": "bold", "align": "left", "baseline": "alphabetic", "color": "black"},
      "encoding": {
       "x": {"datum": 2.72, "type": "quantitative", "scale": {"domain": [0, 18], "nice": false, "zero": false}, "axis": null},
       "y": {"datum": 77, "type": "quantitative", "scale": {"domain": [-20, 170], "nice": false, "zero": false}, "axis": null}
      }},
     {"data": {"values": [{}]}, "mark": {"type": "text", "text": "finite field", "font": "Liberation Serif", "fontSize": 61, "align": "center", "baseline": "alphabetic", "color": "black"},
      "encoding": {
       "x": {"datum": 12.91, "type": "quantitative", "scale": {"domain": [0, 18], "nice": false, "zero": false}, "axis": null},
       "y": {"datum": 34.4, "type": "quantitative", "scale": {"domain": [-20, 170], "nice": false, "zero": false}, "axis": null}
      }},
     {"data": {"values": [{}]}, "mark": {"type": "text", "text": "of view", "font": "Liberation Serif", "fontSize": 61, "align": "center", "baseline": "alphabetic", "color": "black"},
      "encoding": {
       "x": {"datum": 12.91, "type": "quantitative", "scale": {"domain": [0, 18], "nice": false, "zero": false}, "axis": null},
       "y": {"datum": 9.4, "type": "quantitative", "scale": {"domain": [-20, 170], "nice": false, "zero": false}, "axis": null}
      }}
    ]},
   {"width": 671, "height": 531,
    "resolve": {"axis": {"x": "independent", "y": "independent"}},
    "layer": [
     {"data": {"name": "cells"}, "mark": {"type": "line", "color": "#808080", "strokeWidth": 3},
      "encoding": {
       "x": {"field": "t", "type": "quantitative", "scale": {"domain": [0, 300], "nice": false, "zero": false},
             "axis": {"orient": "bottom", "values": [0, 100, 200, 300], "title": "t [min]", "labelPadding": 14, "titlePadding": 6}},
       "y": {"field": "n", "type": "quantitative", "scale": {"domain": [0, 300], "nice": false},
             "axis": {"orient": "left", "values": [0, 50, 100, 150, 200, 250, 300], "title": "number of cell", "labelPadding": 17, "titlePadding": 8}}
      }},
     {"data": {"values": [{}]}, "mark": {"type": "text", "text": "cell tracks with", "font": "Liberation Serif", "fontSize": 60, "align": "left", "baseline": "alphabetic", "color": "black"},
      "encoding": {
       "x": {"datum": 120, "type": "quantitative", "scale": {"domain": [0, 300], "nice": false, "zero": false},
             "axis": {"orient": "top", "values": [0, 100, 200, 300], "labels": false, "title": null}},
       "y": {"datum": 268.9, "type": "quantitative", "scale": {"domain": [0, 300], "nice": false},
             "axis": {"orient": "right", "values": [0, 50, 100, 150, 200, 250, 300], "labels": false, "title": null}}
      }},
     {"data": {"values": [{}]}, "mark": {"type": "text", "text": "different length", "font": "Liberation Serif", "fontSize": 60, "align": "left", "baseline": "alphabetic", "color": "black"},
      "encoding": {
       "x": {"datum": 120, "type": "quantitative", "scale": {"domain": [0, 300], "nice": false, "zero": false}, "axis": null},
       "y": {"datum": 229.4, "type": "quantitative", "scale": {"domain": [0, 300], "nice": false}, "axis": null}
      }}
    ]},
   {"width": 626, "height": 482,
    "title": {"text": "C", "anchor": "start", "frame": "group", "dx": -103, "offset": -15, "fontSize": 34, "fontWeight": "bold", "font": "Liberation Sans", "color": "black", "baseline": "alphabetic"},
    "resolve": {"axis": {"x": "independent", "y": "independent"}},
    "layer": [
     {"data": {"name": "C_err"}, "mark": {"type": "rule", "color": "#b3b3b3", "strokeWidth": 1.5},
      "encoding": {
       "x": {"field": "t", "type": "quantitative", "scale": {"domain": [0, 300], "nice": false, "zero": false},
             "axis": {"orient": "bottom", "values": [0, 100, 200, 300], "title": "time [min]", "labelFontSize": 32, "titleFontSize": 36, "labelPadding": 17, "titlePadding": 2}},
       "y": {"field": "lo", "type": "quantitative", "scale": {"domain": [0, 1.25], "nice": false},
             "axis": {"orient": "left", "values": [0, 0.2, 0.4, 0.6, 0.8, 1, 1.2], "format": "~g", "title": "O(n,1)", "labelFontSize": 32, "titleFontSize": 36, "labelPadding": 19, "titlePadding": 6}},
       "y2": {"field": "hi"}
      }},
     {"data": {"name": "C_err"}, "mark": {"type": "tick", "orient": "horizontal", "size": 16, "thickness": 1.5, "color": "#b3b3b3"},
      "encoding": {
       "x": {"field": "t", "type": "quantitative", "scale": {"domain": [0, 300], "nice": false, "zero": false}, "axis": null},
       "y": {"field": "lo", "type": "quantitative", "scale": {"domain": [0, 1.25], "nice": false}, "axis": null}
      }},
     {"data": {"name": "C_err"}, "mark": {"type": "tick", "orient": "horizontal", "size": 16, "thickness": 1.5, "color": "#b3b3b3"},
      "encoding": {
       "x": {"field": "t", "type": "quantitative", "scale": {"domain": [0, 300], "nice": false, "zero": false}, "axis": null},
       "y": {"field": "hi", "type": "quantitative", "scale": {"domain": [0, 1.25], "nice": false}, "axis": null}
      }},
     {"data": {"name": "C_mean"}, "mark": {"type": "line", "color": "#7f7f7f", "strokeWidth": 4},
      "encoding": {
       "x": {"field": "t", "type": "quantitative", "scale": {"domain": [0, 300], "nice": false, "zero": false},
             "axis": {"orient": "top", "values": [0, 100, 200, 300], "labels": false, "title": null}},
       "y": {"field": "v", "type": "quantitative", "scale": {"domain": [0, 1.25], "nice": false},
             "axis": {"orient": "right", "values": [0, 0.2, 0.4, 0.6, 0.8, 1, 1.2], "labels": false, "title": null}}
      }}
    ]},
   {"width": 626, "height": 482,
    "title": {"text": "D", "anchor": "start", "frame": "group", "dx": -104, "offset": -15, "fontSize": 34, "fontWeight": "bold", "font": "Liberation Sans", "color": "black", "baseline": "alphabetic"},
    "resolve": {"axis": {"x": "independent", "y": "independent"}},
    "layer": [
     {"data": {"name": "D_err"}, "mark": {"type": "rule", "color": "#b3b3b3", "strokeWidth": 1.5},
      "encoding": {
       "x": {"field": "t", "type": "quantitative", "scale": {"domain": [0, 300], "nice": false, "zero": false},
             "axis": {"orient": "bottom", "values": [0, 100, 200, 300], "title": "time [min]", "labelFontSize": 32, "titleFontSize": 36, "labelPadding": 17, "titlePadding": 2}},
       "y": {"field": "lo", "type": "quantitative", "scale": {"domain": [0, 1.25], "nice": false},
             "axis": {"orient": "left", "values": [0, 0.2, 0.4, 0.6, 0.8, 1, 1.2], "format": "~g", "title": "D(n,1)", "labelFontSize": 32, "titleFontSize": 36, "labelPadding": 19, "titlePadding": 6}},
       "y2": {"field": "hi"}
      }},
     {"data": {"name": "D_err"}, "mark": {"type": "tick", "orient": "horizontal", "size": 16, "thickness": 1.5, "color": "#b3b3b3"},
      "encoding": {
       "x": {"field": "t", "type": "quantitative", "scale": {"domain": [0, 300], "nice": false, "zero": false}, "axis": null},
       "y": {"field": "lo", "type": "quantitative", "scale": {"domain": [0, 1.25], "nice": false}, "axis": null}
      }},
     {"data": {"name": "D_err"}, "mark": {"type": "tick", "orient": "horizontal", "size": 16, "thickness": 1.5, "color": "#b3b3b3"},
      "encoding": {
       "x": {"field": "t", "type": "quantitative", "scale": {"domain": [0, 300], "nice": false, "zero": false}, "axis": null},
       "y": {"field": "hi", "type": "quantitative", "scale": {"domain": [0, 1.25], "nice": false}, "axis": null}
      }},
     {"data": {"name": "D_mean"}, "mark": {"type": "line", "color": "#7f7f7f", "strokeWidth": 2.5, "point": {"filled": true, "size": 14, "color": "#7f7f7f"}},
      "encoding": {
       "x": {"field": "t", "type": "quantitative", "scale": {"domain": [0, 300], "nice": false, "zero": false},
             "axis": {"orient": "top", "values": [0, 100, 200, 300], "labels": false, "title": null}},
       "y": {"field": "v", "type": "quantitative", "scale": {"domain": [0, 1.25], "nice": false},
             "axis": {"orient": "right", "values": [0, 0.2, 0.4, 0.6, 0.8, 1, 1.2], "labels": false, "title": null}}
      }}
    ]}
]
}
